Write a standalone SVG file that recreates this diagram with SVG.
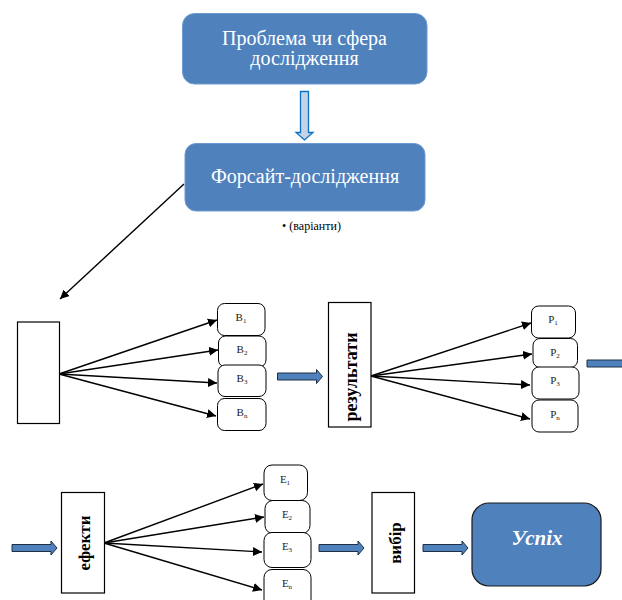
<svg xmlns="http://www.w3.org/2000/svg" width="622" height="600" viewBox="0 0 622 600">
<style>
text{font-family:"Liberation Serif","Times New Roman",serif;fill:#000}
.blue{fill:#4f81bd;stroke:#6d9ad0;stroke-width:1}
.w{fill:#fff;font-size:20px;text-anchor:middle}
.rect{fill:#fff;stroke:#000;stroke-width:1.2}
.rr{fill:#fff;stroke:#000;stroke-width:1}
.lab{font-size:11px;text-anchor:middle;fill:#222}
.sub{font-size:7px}
.v{font-size:17px;font-weight:bold;text-anchor:middle}
.c{stroke:#000;stroke-width:1.4;fill:none;marker-end:url(#ah)}
.ba{fill:#4f81bd;stroke:#1f2f45;stroke-width:1}
</style>
<defs>
<marker id="ah" markerUnits="userSpaceOnUse" markerWidth="10" markerHeight="10" refX="9" refY="4.5" orient="auto"><path d="M0 0L9 4.5L0 9Z" fill="#000"/></marker>
<path id="block" d="M0 -3.500H39V-7L45 0L39 7V3.500H0Z"/>
</defs>
<g id="connectors">
<path class="c" d="M184 184L60 299"/>
<path class="c" d="M59 374L217 320"/><path class="c" d="M59 374L218 350"/><path class="c" d="M59 374L217 383"/><path class="c" d="M59 374L216 416"/>
<path class="c" d="M371 376L531 323"/><path class="c" d="M371 376L532 354"/><path class="c" d="M371 376L530 385"/><path class="c" d="M371 376L530 419"/>
<path class="c" d="M104 543L263 484"/><path class="c" d="M104 543L264 517"/><path class="c" d="M104 543L262 552"/><path class="c" d="M104 543L262 590"/>
<path d="M300.500 91.500H308.500V132.500H313L304.500 140L296 132.500H300.500Z" fill="#c6d3e6" stroke="#0a70c0" stroke-width="1.300"/>
<use href="#block" class="ba" x="277.500" y="376.500"/>
<path class="ba" d="M587 360H623V367H587Z"/>
<use href="#block" class="ba" x="12" y="548"/>
<use href="#block" class="ba" x="319" y="548"/>
<use href="#block" class="ba" x="423" y="548"/>
</g>
<g id="problem"><rect class="blue" x="182.500" y="13.500" width="244.500" height="70.500" rx="12"/><text class="w" x="304.500" y="45">Проблема чи сфера</text><text class="w" x="304.500" y="65">дослідження</text></g>
<g id="foresight"><rect class="blue" x="185" y="143.500" width="240" height="67.500" rx="11"/><text class="w" x="305" y="183">Форсайт-дослідження</text></g>
<g id="variants"><text x="311.500" y="230" font-size="12" text-anchor="middle">• (варіанти)</text></g>
<g id="blank"><rect class="rect" x="17.500" y="322" width="42" height="101.500"/></g>
<g id="b1"><rect class="rr" x="217.500" y="303.500" width="47.500" height="32" rx="7"/><text class="lab" x="241" y="321">B<tspan class="sub" dy="2">1</tspan></text></g>
<g id="b2"><rect class="rr" x="218.500" y="336" width="47.500" height="31" rx="7"/><text class="lab" x="242" y="353">B<tspan class="sub" dy="2">2</tspan></text></g>
<g id="b3"><rect class="rr" x="218" y="365" width="48" height="31.500" rx="7"/><text class="lab" x="242" y="382">B<tspan class="sub" dy="2">3</tspan></text></g>
<g id="bn"><rect class="rr" x="217.500" y="398.500" width="48.500" height="32" rx="7"/><text class="lab" x="242" y="416">B<tspan class="sub" dy="2">n</tspan></text></g>
<g id="results"><rect class="rect" x="328.500" y="302.500" width="42.500" height="124.500"/><text class="v" style="font-size:18px" transform="translate(357 377) rotate(-90)">результати</text></g>
<g id="p1"><rect class="rr" x="531.500" y="306" width="44" height="32" rx="7"/><text class="lab" x="553" y="323">P<tspan class="sub" dy="2">1</tspan></text></g>
<g id="p2"><rect class="rr" x="533" y="338.500" width="44.500" height="29" rx="7"/><text class="lab" x="555" y="356">P<tspan class="sub" dy="2">2</tspan></text></g>
<g id="p3"><rect class="rr" x="532" y="367" width="47" height="32" rx="7"/><text class="lab" x="555" y="384">P<tspan class="sub" dy="2">3</tspan></text></g>
<g id="pn"><rect class="rr" x="532" y="400" width="46" height="32" rx="7"/><text class="lab" x="555" y="418">P<tspan class="sub" dy="2">n</tspan></text></g>
<g id="effects"><rect class="rect" x="61.500" y="492.500" width="43" height="100.500"/><text class="v" transform="translate(90 543) rotate(-90)">ефекти</text></g>
<g id="e1"><rect class="rr" x="264" y="465" width="43.500" height="35.500" rx="8"/><text class="lab" x="285" y="483">E<tspan class="sub" dy="2">1</tspan></text></g>
<g id="e2"><rect class="rr" x="265" y="500.500" width="45" height="33" rx="8"/><text class="lab" x="287" y="518">E<tspan class="sub" dy="2">2</tspan></text></g>
<g id="e3"><rect class="rr" x="264" y="532.500" width="47" height="35" rx="8"/><text class="lab" x="287" y="550">E<tspan class="sub" dy="2">3</tspan></text></g>
<g id="en"><rect class="rr" x="264" y="569.500" width="47" height="40" rx="8"/><text class="lab" x="287" y="587">E<tspan class="sub" dy="2">n</tspan></text></g>
<g id="choice"><rect class="rect" x="372" y="492.500" width="42.500" height="100.500"/><text class="v" transform="translate(401 543) rotate(-90)">вибір</text></g>
<g id="success"><rect x="472" y="503" width="129" height="83" rx="17" fill="#4f81bd" stroke="#1a1a1a" stroke-width="1.200"/><text x="537" y="545" font-size="21" font-weight="bold" font-style="italic" text-anchor="middle" style="fill:#fff">Успіх</text></g>
</svg>
